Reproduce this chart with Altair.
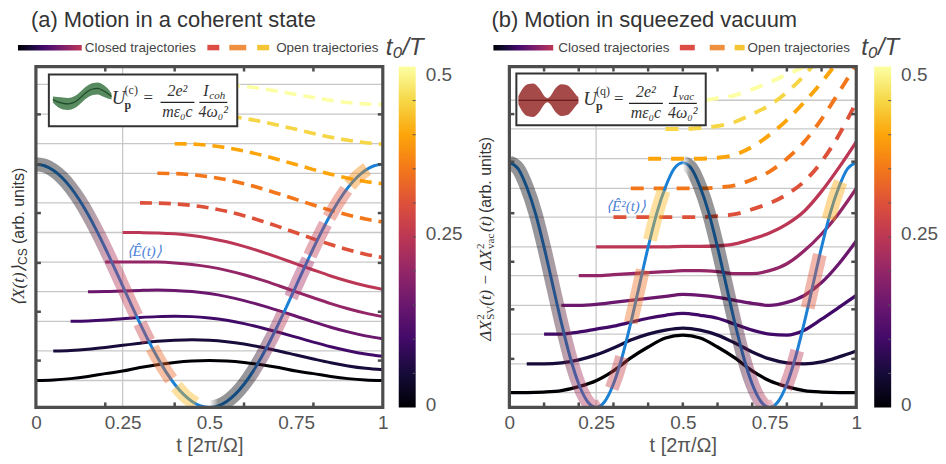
import altair as alt
import pandas as pd

W, H = 348, 342
FONT = "Liberation Sans"
SERIF = "Liberation Serif"
FRAME = "#4d4d4d"
GRID = "#c8c8c8"
BLUE = "#1c80d4"
LABEL = "#555555"
DARK = "#333333"
BLUE_TXT = "#4d82d6"

INFERNO = ["#000004", "#160b39", "#420a68", "#6a176e", "#932667", "#bc3754",
           "#dd513a", "#f37819", "#fca50a", "#f6d746", "#fcffa4"]

T05 = [0.0, 0.05, 0.1, 0.15, 0.2, 0.25, 0.3, 0.35, 0.4, 0.45, 0.5,
       0.55, 0.6, 0.65, 0.7, 0.75, 0.8, 0.85, 0.9, 0.95, 1.0]
T025 = [0.0, 0.025, 0.05, 0.075, 0.1, 0.125, 0.15, 0.175, 0.2, 0.225, 0.25,
        0.275, 0.3, 0.325, 0.35, 0.375, 0.4, 0.425, 0.45, 0.475, 0.5,
        0.525, 0.55, 0.575, 0.6, 0.625, 0.65, 0.675, 0.7, 0.725, 0.75,
        0.775, 0.8, 0.825, 0.85, 0.875, 0.9, 0.925, 0.95, 0.975, 1.0]
T0 = [0.0, 0.05, 0.1, 0.15, 0.2, 0.25, 0.3, 0.35, 0.4, 0.45, 0.5]

# ---------------- panel (a): coherent state ----------------
A_BLUE = [244, 242.5, 238, 230.7, 220.7, 208.3, 193.7, 177.4, 159.7, 141.1, 122,
          102.9, 84.3, 66.6, 50.3, 35.7, 23.3, 13.3, 6, 1.5, 0,
          1.5, 6, 13.3, 23.3, 35.7, 50.3, 66.6, 84.3, 102.9, 122,
          141.1, 159.7, 177.4, 193.7, 208.3, 220.7, 230.7, 238, 242.5, 244]
A_K0 = [27, 27.5, 28.9, 31.1, 33.9, 36.5, 40.1, 42.9, 45.1, 46.5, 47, 46.5, 45.1, 42.9, 40.1, 36.5, 33.9, 31.1, 28.9, 27.5, 27]
A_K1 = [56.7, 57.2, 58.4, 60.2, 62.3, 64.4, 66.3, 67.5, 68, 67.5, 66, 63.6, 60.4, 56.7, 52.6, 48.6, 44.8, 41.6, 39.2, 37.8]
A_K2 = [86.4, 86.8, 87.7, 89, 90.2, 91.1, 91.5, 91.1, 89.7, 87.4, 84.1, 80, 75.4, 70.5, 65.5, 60.9, 56.9, 53.6, 51.3]
A_K3 = [116.1, 116.3, 116.9, 117.4, 117.7, 117.4, 116.2, 114.2, 111.2, 107.2, 102.4, 97.1, 91.5, 85.8, 80.5, 75.8, 71.8, 68.8]
A_K4 = [145.8, 145.9, 146, 145.8, 145, 143.5, 141, 137.5, 133.1, 127.9, 122.1, 116, 110, 104.2, 99, 94.6, 91.1]
A_K5 = [175.5, 175.4, 175.1, 174.2, 172.4, 169.8, 166.2, 161.6, 156.2, 150.3, 144.1, 137.9, 131.9, 126.6, 122, 118.4]
A_K6 = [205.2, 205, 204.2, 202.7, 200.2, 196.7, 192.3, 187.1, 181.3, 175.2, 169.1, 163.4, 158.2, 153.8, 150.3]
A_K7 = [234.9, 234.6, 233.4, 231.4, 228.4, 224.4, 219.7, 214.3, 208.7, 203.1, 197.7, 193, 189, 186]
A_K8 = [264.6, 264.2, 262.8, 260.5, 257.2, 253.2, 248.5, 243.6, 238.6, 234, 230, 226.7, 224.4]
A_K9 = [294.3, 293.8, 292.4, 290, 286.8, 283, 279, 274.9, 271.1, 268, 265.6, 264.1]
A_K10 = [324, 323.5, 322.1, 319.9, 317.1, 314, 310.9, 308.1, 305.9, 304.5, 304]
A_TRAJ = [A_K0, A_K1, A_K2, A_K3, A_K4, A_K5, A_K6, A_K7, A_K8, A_K9, A_K10]
A_GRID = [27, 56.7, 86.4, 116.1, 145.8, 175.5, 205.2, 234.9, 264.6, 294.3, 324]
A_YTICKS = [47, 96, 145, 195, 244, 294]
A_XTICKS = [0.2, 0.4, 0.6, 0.8]
A_BIRTH_T = [0, 0.025, 0.05, 0.075, 0.1, 0.125, 0.15, 0.175, 0.2, 0.225, 0.25, 0.275, 0.29]
A_BIRTH_V = [244, 242.5, 238, 230.7, 220.7, 208.3, 193.7, 177.4, 159.7, 141.1, 122, 102.9, 91.7]
A_RET_T = [0.5, 0.525, 0.55, 0.575, 0.6, 0.625, 0.65, 0.675, 0.7, 0.715]
A_RET_V = [0, 1.5, 6, 13.3, 23.3, 35.7, 50.3, 66.6, 84.3, 95.4]
A_DASH_T = [[0.30, 0.3125, 0.325], [0.335, 0.36, 0.39], [0.405, 0.43, 0.46],
            [0.735, 0.76, 0.785], [0.79, 0.81, 0.835], [0.845, 0.87, 0.895], [0.905, 0.93, 0.955]]
A_DASH_V = [[84.3, 75.3, 66.6], [59.9, 44.2, 28.0], [21.1, 11.6, 3.8],
            [110.5, 129.7, 148.6], [152.3, 166.9, 184.1], [190.6, 205.5, 218.4], [222.9, 232.4, 239.2]]
A_DASH_C = [0.27, 0.33, 0.42, 0.22, 0.26, 0.30, 0.37]
A_ICON_T = [0.049, 0.063, 0.078, 0.092, 0.106, 0.121, 0.135, 0.149, 0.164, 0.178, 0.193, 0.207, 0.218]
A_ICON_V = [309, 306.5, 305, 304.5, 305.5, 308.5, 313, 317, 319.5, 320, 318, 315, 312]
A_ICON_HW = [3, 5, 6, 6, 6, 6, 6, 6, 6, 6, 6, 5, 3]

# ---------------- panel (b): squeezed vacuum ----------------
B_BLUE = [247, 241, 222.4, 196.1, 161.7, 123.5, 85.3, 50.9, 23.6, 6, 0,
          6, 23.6, 50.9, 85.3, 123.5, 161.7, 196.1, 222.4, 241, 247,
          241, 222.4, 196.1, 161.7, 123.5, 85.3, 50.9, 23.6, 6, 0,
          6, 23.6, 50.9, 85.3, 123.5, 161.7, 196.1, 222.4, 241, 247]
B_K0 = [15, 15, 15.5, 17, 21, 27, 37, 50, 61, 70, 73, 70, 61, 50, 37, 27, 21, 17, 15.5, 15, 15]
B_K1 = [44, 44, 45, 48, 53, 60, 68, 74, 78, 80, 78, 73, 65, 56, 49, 45, 44, 46, 51, 57]
B_K2 = [74, 74, 76, 79, 82, 86, 90, 93, 95, 93, 90, 84, 78, 74, 73, 78, 89, 101, 113]
B_K3 = [103, 103, 104, 106, 108, 110, 112, 114, 113, 111, 108, 105, 103, 106, 113, 126, 145, 168]
B_K4 = [133, 133, 134, 135, 136, 137, 138, 138, 137, 135, 135, 138, 145, 158, 175, 196, 221]
B_K5 = [162, 162, 162, 162, 162, 162.5, 162.5, 163, 165, 170, 176, 185, 198, 218, 242, 268]
B_K6 = [192, 192, 192, 192, 192, 192, 193, 195, 200, 206, 215, 228, 248, 275, 308]
B_K7 = [221, 221, 221, 221, 221, 222, 224, 230, 238, 251, 268, 291, 318, 346]
B_K8 = [251, 251, 251, 251, 252, 255, 263, 275, 290, 308, 328, 351, 376]
B_K9 = [281, 281, 282, 284, 288, 296, 305, 318, 335, 356, 380, 408]
B_K10 = [310, 310, 312, 315, 321, 328, 336, 344, 356, 370, 386]
B_TRAJ = [B_K0, B_K1, B_K2, B_K3, B_K4, B_K5, B_K6, B_K7, B_K8, B_K9, B_K10]
B_GRID = [15, 44, 74, 103, 133, 162, 192, 221, 251, 281, 310]
B_YTICKS = [49, 99, 147, 196, 248, 296]
B_XTICKS = [0.1, 0.2, 0.3, 0.4, 0.5, 0.6, 0.7, 0.8, 0.9]
B_BIRTH_T = [0, 0.025, 0.05, 0.075, 0.1, 0.125, 0.15, 0.175, 0.2, 0.225, 0.25, 0.265]
B_BIRTH_V = [247, 241, 222.4, 196.1, 161.7, 123.5, 85.3, 50.9, 23.6, 6, 0, 2.2]
B_RET_T = [0.5, 0.525, 0.55, 0.575, 0.6, 0.625, 0.65, 0.675, 0.7, 0.725, 0.75, 0.765]
B_RET_V = [247, 241, 222.4, 196.1, 161.7, 123.5, 85.3, 50.9, 23.6, 6, 0, 2.2]
B_DASH_T = [[0.295, 0.31, 0.325], [0.35, 0.3675, 0.385], [0.405, 0.425, 0.445],
            [0.795, 0.8125, 0.83], [0.86, 0.8775, 0.895], [0.92, 0.9375, 0.955]]
B_DASH_V = [[19.2, 33.5, 50.9], [85.3, 111.9, 139.0], [169.0, 196.1, 218.7],
            [19.2, 36.2, 57.3], [100.4, 127.4, 154.2], [189.7, 210.8, 227.8]]
B_DASH_C = [0.27, 0.34, 0.42, 0.25, 0.30, 0.40]
B_ICON_T = [0.026, 0.037, 0.052, 0.069, 0.086, 0.101, 0.110, 0.118, 0.133, 0.150, 0.167, 0.182, 0.193, 0.199]
B_ICON_V = [310, 310, 310, 310, 310, 310, 310, 310, 310, 310, 310, 310, 310, 310]
B_ICON_HW = [4, 11, 16, 17, 12, 4, 2, 4, 12, 16, 15, 10, 5, 3]

XS = alt.Scale(domain=[0, 1], nice=False, zero=False)
CS = alt.Scale(scheme="inferno", domain=[0, 0.5])
AX = alt.Axis(values=[0, 0.25, 0.5, 0.75, 1], format=".2~f", ticks=False, domain=False, grid=False,
              labelFontSize=19, labelFont=FONT, labelColor=LABEL, labelPadding=6, labelFlush=False,
              title="t [2π/Ω]", titleFontSize=20, titleFont=FONT, titleColor=LABEL,
              titleFontWeight="normal", titlePadding=3)


def one():
    return pd.DataFrame({"a": [0]})


def txt(x, y, s, size, font=FONT, style="normal", weight="normal", color=DARK,
        align="left", baseline="alphabetic", angle=0):
    kw = dict(text=s, fontSize=size, font=font, fontStyle=style, fontWeight=weight,
              color=color, align=align, baseline=baseline)
    if angle:
        kw["angle"] = angle
    return alt.Chart(one()).mark_text(**kw).encode(x=alt.value(x), y=alt.value(y))


def hseg(x1, x2, y, color, width, cap="butt"):
    return alt.Chart(one()).mark_rule(color=color, strokeWidth=width, strokeCap=cap).encode(
        x=alt.value(x1), x2=alt.value(x2), y=alt.value(y))


def grad(colors, offsets, x1=0, x2=1, y1=0, y2=0):
    return alt.LinearGradient(gradient="linear",
                              stops=[alt.GradientStop(color=c, offset=o) for c, o in zip(colors, offsets)],
                              x1=x1, x2=x2, y1=y1, y2=y2)


def panel(P):
    YS = alt.Scale(domain=[0, P["ytop"]], nice=False, zero=False)
    X = alt.X("t:Q", scale=XS, axis=AX)

    def Y(f):
        return alt.Y(f + ":Q", scale=YS, axis=None)

    rows = []
    for k, vals in enumerate(P["traj"]):
        for i, v in enumerate(vals):
            rows.append({"t": T05[k + i], "v": v, "c": T0[k], "k": k})
    traj = pd.DataFrame(rows)
    closed = traj[traj.k <= 5]
    opened = traj[traj.k > 5]
    color = alt.Color("c:Q", scale=CS, legend=None)

    L = []
    L.append(alt.Chart(pd.DataFrame({"v": P["grid"]})).mark_rule(color=GRID, strokeWidth=1.3).encode(
        y=Y("v"), x=alt.value(0), x2=alt.value(W)))
    L.append(alt.Chart(pd.DataFrame({"t": [0.25]})).mark_rule(color=GRID, strokeWidth=1.3).encode(
        x=X, y=alt.value(0), y2=alt.value(H)))
    L.append(alt.Chart(closed).mark_line(strokeWidth=P["lw"], interpolate="monotone", clip=True).encode(
        x=X, y=Y("v"), color=color, detail="k:N"))
    L.append(alt.Chart(opened).mark_line(strokeWidth=P["lw"] + 0.6, strokeDash=P["dash"],
                                         interpolate="monotone", clip=True).encode(
        x=X, y=Y("v"), color=color, detail="k:N"))
    L.append(alt.Chart(pd.DataFrame({"t": T025, "v": P["blue"]})).mark_line(
        color=BLUE, strokeWidth=3, interpolate="monotone", clip=True).encode(x=X, y=Y("v")))
    # highlighted bands along the field
    L.append(alt.Chart(pd.DataFrame({"t": P["birth_t"], "v": P["birth_v"]})).mark_line(
        stroke=grad(P["birth_cols"], P["birth_offs"]), strokeWidth=14, strokeOpacity=0.42,
        strokeCap="butt", interpolate="monotone", clip=True).encode(x=X, y=Y("v")))
    L.append(alt.Chart(pd.DataFrame({"t": P["ret_t"], "v": P["ret_v"]})).mark_line(
        stroke=grad(P["ret_cols"], P["ret_offs"]), strokeWidth=14, strokeOpacity=0.42,
        strokeCap="butt", interpolate="monotone", clip=True).encode(x=X, y=Y("v")))
    drows = []
    for s, (ts, vs, c) in enumerate(zip(P["dash_t"], P["dash_v"], P["dash_c"])):
        for t, v in zip(ts, vs):
            drows.append({"t": t, "v": v, "c": c, "s": s})
    L.append(alt.Chart(pd.DataFrame(drows)).mark_line(
        strokeWidth=14, strokeOpacity=0.42, strokeCap="butt", interpolate="monotone", clip=True).encode(
        x=X, y=Y("v"), color=color, detail="s:N"))
    # inset box
    bx = P["box"]
    L.append(alt.Chart(one()).mark_rect(fill="white", stroke="#333333", strokeWidth=2).encode(
        x=alt.value(bx[0]), x2=alt.value(bx[1]), y=alt.value(bx[2]), y2=alt.value(bx[3])))
    icon = pd.DataFrame({"t": P["icon_t"],
                         "lo": [v - h for v, h in zip(P["icon_v"], P["icon_hw"])],
                         "hi": [v + h for v, h in zip(P["icon_v"], P["icon_hw"])],
                         "v": P["icon_v"]})
    L.append(alt.Chart(icon).mark_area(color=P["icon_col"], opacity=0.8, interpolate="monotone").encode(
        x=X, y=Y("lo"), y2=alt.Y2("hi")))
    L.append(alt.Chart(icon).mark_line(color=P["icon_dark"], strokeWidth=1.2, interpolate="monotone").encode(
        x=X, y=Y("v")))
    f = P["f"]
    L.append(txt(f["U"], f["ub"], "U", 19, SERIF, "italic"))
    L.append(txt(f["U"] + 13, f["ub"] - 10, P["sup"], 12, SERIF))
    L.append(txt(f["U"] + 13, f["ub"] + 5, "p", 12, SERIF, weight="bold"))
    L.append(txt(f["eq"], f["ub"] - 1, "=", 17, SERIF))
    L.append(txt(f["c1"], f["ub"] - 8, "2e²", 16, SERIF, "italic", align="center"))
    L.append(hseg(f["c1"] - 17, f["c1"] + 17, f["ub"] - 2, "#222222", 1.2))
    L.append(txt(f["c1"], f["ub"] + 13, "mε₀c", 16, SERIF, "italic", align="center"))
    L.append(txt(f["c2"] - 10, f["ub"] - 8, "I", 16, SERIF, "italic"))
    L.append(txt(f["c2"] - 4, f["ub"] - 5, P["isub"], 11, SERIF, "italic"))
    L.append(hseg(f["c2"] - 14, f["c2"] + 14, f["ub"] - 2, "#222222", 1.2))
    L.append(txt(f["c2"], f["ub"] + 13, "4ω₀²", 16, SERIF, "italic", align="center"))
    L.append(txt(P["blab"][0], P["blab"][1], P["blab"][2], 15, SERIF, "italic", color=BLUE_TXT))
    # frame ticks
    xt = pd.DataFrame({"t": P["xticks"]})
    L.append(alt.Chart(xt).mark_rule(color=FRAME, strokeWidth=2.5).encode(x=X, y=alt.value(H - 5), y2=alt.value(H)))
    L.append(alt.Chart(xt).mark_rule(color=FRAME, strokeWidth=2.5).encode(x=X, y=alt.value(0), y2=alt.value(5)))
    yt = pd.DataFrame({"v": P["yticks"]})
    L.append(alt.Chart(yt).mark_rule(color=FRAME, strokeWidth=2.5).encode(y=Y("v"), x=alt.value(0), x2=alt.value(5)))
    L.append(alt.Chart(yt).mark_rule(color=FRAME, strokeWidth=2.5).encode(y=Y("v"), x=alt.value(W - 5), x2=alt.value(W)))
    L.append(alt.Chart(one()).mark_rect(fill="white", fillOpacity=0, stroke=FRAME, strokeWidth=3.2).encode(
        x=alt.value(0), x2=alt.value(W), y=alt.value(0), y2=alt.value(H)))
    # colour bar
    cb = P["cbx"]
    L.append(alt.Chart(one()).mark_rect(color=grad(INFERNO, [i / 10 for i in range(11)], 0, 0, 1, 0)).encode(
        x=alt.value(cb), x2=alt.value(cb + 17), y=alt.value(0), y2=alt.value(H)))
    for t in T0[1:-1]:
        yy = H * (1 - t / 0.5)
        L.append(hseg(cb + 14, cb + 17, yy, "#555555", 1))
    L.append(txt(cb + 27, 9, "0.5", 19, color=LABEL, baseline="middle"))
    L.append(txt(cb + 27, H / 2 - 3, "0.25", 19, color=LABEL, baseline="middle"))
    L.append(txt(cb + 27, H - 2, "0", 19, color=LABEL, baseline="middle"))
    L.append(txt(cb + 6, -12, "t₀/T", 24, FONT, "italic", color="#444444", align="center"))
    # legend row
    lg = P["leg"]
    L.append(alt.Chart(one()).mark_rect(color=grad(INFERNO[:6], [0, 0.2, 0.4, 0.6, 0.8, 1.0])).encode(
        x=alt.value(lg[0]), x2=alt.value(lg[1]), y=alt.value(-21.5), y2=alt.value(-16)))
    L.append(txt(lg[2], -19, "Closed trajectories", 13.5, color="#444444", baseline="middle"))
    for (a, b), col in zip(lg[3], ["#dd4d45", "#ee9040", "#f4c535"]):
        L.append(hseg(a, b, -19, col, 5.5))
    L.append(txt(lg[4], -19, "Open trajectories", 13.5, color="#444444", baseline="middle"))
    # title
    L.append(txt(P["title_x"], -40, P["title"], 22, color=DARK))
    # y title pieces (rotated)
    for (x, y, s, size, font, style) in P["ytitle"]:
        L.append(txt(x, y, s, size, font, style, color=DARK, angle=270, baseline="middle"))
    return alt.layer(*L).properties(width=W, height=H)


BAND_A = ["#000004", "#0a0610", "#4a1a30", "#a02c58", "#bc3754", "#cc4248"]
BAND_A_OFF = [0, 0.3, 0.55, 0.72, 0.86, 1.0]
BAND_B = ["#000004", "#0a0610", "#4a1a30", "#a02c58", "#bc3754", "#c8505a"]
BAND_B_OFF = [0, 0.3, 0.55, 0.75, 0.92, 1.0]

PA = dict(
    ytop=342, traj=A_TRAJ, grid=A_GRID, lw=3, dash=[12, 7], blue=A_BLUE,
    birth_t=A_BIRTH_T, birth_v=A_BIRTH_V,
    birth_cols=BAND_A, birth_offs=BAND_A_OFF,
    ret_t=A_RET_T, ret_v=A_RET_V,
    ret_cols=["#ffffff", "#000004", "#0a0610", "#7a2050", "#bc3754"], ret_offs=[0, 0.12, 0.55, 0.8, 1.0],
    dash_t=A_DASH_T, dash_v=A_DASH_V, dash_c=A_DASH_C,
    box=[13, 202, 8, 60], icon_t=A_ICON_T, icon_v=A_ICON_V, icon_hw=A_ICON_HW,
    icon_col="#2f6e3a", icon_dark="#1d4a26",
    f=dict(U=76, ub=38, eq=108, c1=142, c2=178), sup="(c)", isub="coh",
    blab=(91, 190, "⟨Ê(t)⟩"),
    xticks=A_XTICKS, yticks=A_YTICKS, cbx=364,
    leg=[-18, 46, 49, [(172, 184), (194, 211), (222, 234)], 241],
    title="(a) Motion in a coherent state", title_x=-5,
    ytitle=[(-17, 240, "⟨X(t)⟩", 17, SERIF, "italic"),
            (-13, 199, "CS", 12, FONT, "normal"),
            (-17, 178, "(arb. units)", 16, FONT, "normal")],
)

PB = dict(
    ytop=344, traj=B_TRAJ, grid=B_GRID, lw=3.3, dash=[13, 10], blue=B_BLUE,
    birth_t=B_BIRTH_T, birth_v=B_BIRTH_V,
    birth_cols=BAND_B, birth_offs=BAND_B_OFF,
    ret_t=B_RET_T, ret_v=B_RET_V,
    ret_cols=["#ffffff", "#000004", "#0a0610", "#7a2050", "#bc3754", "#e8a0a8"],
    ret_offs=[0, 0.08, 0.5, 0.75, 0.92, 1.0],
    dash_t=B_DASH_T, dash_v=B_DASH_V, dash_c=B_DASH_C,
    box=[7, 197, 7, 59], icon_t=B_ICON_T, icon_v=B_ICON_V, icon_hw=B_ICON_HW,
    icon_col="#8e1b1b", icon_dark="#5a0f0f",
    f=dict(U=74, ub=39, eq=105, c1=137, c2=174), sup="(q)", isub="vac",
    blab=(97, 145, "⟨Ê²(t)⟩"),
    xticks=B_XTICKS, yticks=B_YTICKS, cbx=366,
    leg=[-16, 44, 49, [(171, 186), (201, 216), (226, 236)], 239],
    title="(b) Motion in squeezed vacuum", title_x=-18,
    ytitle=[(-23, 275, "ΔX", 17, SERIF, "italic"),
            (-28, 254, "2", 11, SERIF, "normal"),
            (-18, 254, "SV", 11, SERIF, "normal"),
            (-23, 240, "(t) − ΔX", 17, SERIF, "italic"),
            (-28, 183, "2", 11, SERIF, "normal"),
            (-18, 183, "vac", 11, SERIF, "normal"),
            (-23, 166, "(t)", 17, SERIF, "italic"),
            (-23, 147, "(arb. units)", 16, FONT, "normal")],
)

chart = alt.hconcat(panel(PA), panel(PB), spacing=13).properties(
    padding={"left": 2, "top": 0, "right": 0, "bottom": 0}, background="white"
).configure_view(stroke=None)

chart.save("out.html", embed_options={"renderer": "svg", "actions": False})
